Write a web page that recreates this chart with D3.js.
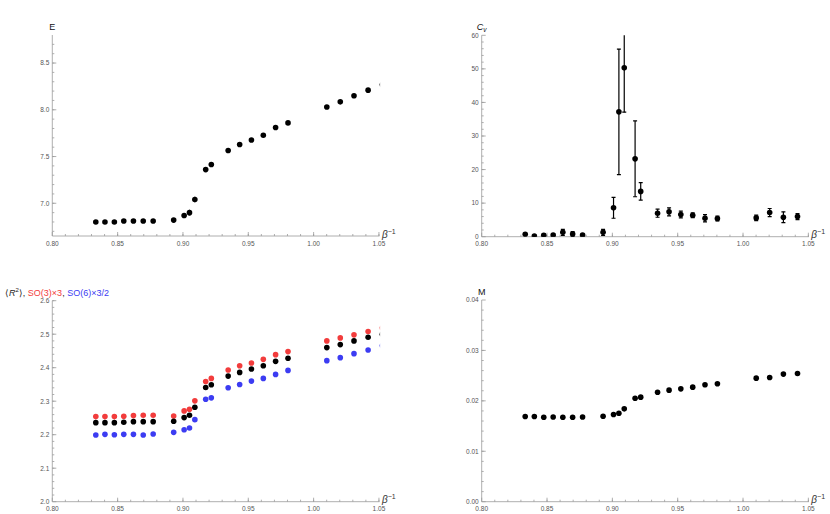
<!DOCTYPE html>
<html>
  <head>
    <title>Observables vs inverse coupling</title>
    <meta charset="utf-8">
    <script src="https://d3js.org/d3.v7.min.js"></script>
    <style>
    body { margin: 0; background: #fff; }
    text { font-family: "Liberation Sans", Arial, sans-serif; }
    </style>
  </head>
  <body>
    <div class="plots"></div>

    <script>

	// inverse coupling beta^-1, shared by all four panels
	var invBeta = [0.8333, 0.8403, 0.8475, 0.8547, 0.8621, 0.8696, 0.8772, 0.8929, 0.9009, 0.9050, 0.9091, 0.9174,
	               0.9217, 0.9346, 0.9434, 0.9524, 0.9615, 0.9709, 0.9804, 1.0101, 1.0204, 1.0309, 1.0417, 1.0526];

	var energy = [6.80, 6.80, 6.80, 6.81, 6.81, 6.81, 6.81, 6.82, 6.87, 6.90, 7.04, 7.36,
	              7.415, 7.564, 7.628, 7.677, 7.727, 7.81, 7.86, 8.03, 8.085, 8.15, 8.21, 8.27];
	var energyErr = [0.005, 0.005, 0.005, 0.005, 0.005, 0.005, 0.005, 0.008, 0.02, 0.03, 0.03, 0.02,
	                 0.01, 0.005, 0.005, 0.005, 0.005, 0.005, 0.005, 0.005, 0.005, 0.005, 0.005, 0.005];

	var cv = [0.7, 0.2, 0.4, 0.5, 1.3, 0.8, 0.5, 1.3, 8.6, 37.2, 50.3, 23.2,
	          13.5, 7.0, 7.4, 6.6, 6.4, 5.5, 5.4, 5.6, 7.2, 5.8, 6.0];
	var cvErr = [0.3, 0.2, 0.4, 0.3, 0.9, 0.7, 0.3, 0.9, 3.1, 18.7, 13.2, 11.3,
	             2.6, 1.2, 1.2, 1.0, 0.7, 1.1, 0.7, 0.8, 1.2, 1.6, 0.9];

	var r2 = [2.236, 2.236, 2.236, 2.237, 2.239, 2.239, 2.239, 2.240, 2.251, 2.258, 2.282, 2.341,
	          2.349, 2.375, 2.386, 2.396, 2.406, 2.419, 2.428, 2.460, 2.469, 2.480, 2.491, 2.500];
	var so3 = [2.254, 2.254, 2.254, 2.255, 2.257, 2.258, 2.258, 2.256, 2.271, 2.276, 2.301, 2.359,
	           2.368, 2.393, 2.406, 2.414, 2.425, 2.439, 2.448, 2.480, 2.489, 2.498, 2.508, 2.519];
	var so6 = [2.199, 2.201, 2.200, 2.201, 2.201, 2.199, 2.202, 2.207, 2.215, 2.220, 2.245, 2.306,
	           2.310, 2.340, 2.350, 2.360, 2.368, 2.380, 2.392, 2.421, 2.430, 2.442, 2.453, 2.466];

	var mag = [0.01689, 0.01690, 0.01675, 0.01680, 0.01675, 0.01675, 0.01680, 0.01695, 0.01728, 0.01755, 0.01841, 0.02053,
	           0.02073, 0.02172, 0.02212, 0.02238, 0.02272, 0.02318, 0.02338, 0.02450, 0.02464, 0.02530, 0.02543];

	var xTicks = [0.80, 0.85, 0.90, 0.95, 1.00, 1.05];

	var width = 830, height = 514;
	var svg = d3.select(".plots").append("svg").attr("width", width).attr("height", height);

	var axisColor = "#9a9a9a", labelColor = "#555";

	function panel(opt) {
		var g = svg.append("g");

		var xEnd = 1.0504;
		var x = d3.scaleLinear().domain([0.80, xEnd]).range([opt.left, opt.left + (xEnd - 0.80) / 0.05 * 65.33]);
		var y = d3.scaleLinear().domain(opt.yDomain).range([opt.bottom, opt.top]);

		var clipId = "clip" + opt.name;
		g.append("clipPath").attr("id", clipId)
			.append("rect")
			.attr("x", x.range()[0]).attr("y", opt.top)
			.attr("width", x.range()[1] - x.range()[0] + 0.6).attr("height", opt.bottom - opt.top);

		// x axis, ticks pointing into the plot
		var xAxis = g.append("g").attr("transform", "translate(0," + opt.bottom + ")");
		xAxis.append("line").attr("x1", x.range()[0]).attr("x2", x.range()[1]).attr("stroke", axisColor).attr("stroke-width", 0.8);
		xAxis.selectAll(".minor").data(d3.range(0.81, 1.051, 0.01)).enter().append("line")
			.attr("x1", function(d){ return x(d); }).attr("x2", function(d){ return x(d); })
			.attr("y1", 0).attr("y2", -2).attr("stroke", axisColor).attr("stroke-width", 0.8);
		xAxis.selectAll(".major").data(xTicks).enter().append("line")
			.attr("x1", function(d){ return x(d); }).attr("x2", function(d){ return x(d); })
			.attr("y1", 0).attr("y2", -4).attr("stroke", axisColor).attr("stroke-width", 0.8);
		xAxis.selectAll("text").data(xTicks).enter().append("text")
			.attr("x", function(d){ return x(d); }).attr("y", 9.5)
			.attr("text-anchor", "middle").attr("font-size", "6.5px").attr("fill", labelColor)
			.text(function(d){ return d3.format(".2f")(d); });
		var bl = xAxis.append("text").attr("x", x(1.05) + 3).attr("y", 1.5).attr("font-size", "10px").attr("fill", "#333");
		bl.append("tspan").attr("font-style", "italic").text("β");
		bl.append("tspan").attr("dy", -4).attr("font-size", "7px").text("−1");

		// y axis
		var yAxis = g.append("g").attr("transform", "translate(" + opt.left + ",0)");
		yAxis.append("line").attr("y1", opt.bottom).attr("y2", opt.top).attr("stroke", axisColor).attr("stroke-width", 0.8);
		yAxis.selectAll(".minor").data(opt.yMinor).enter().append("line")
			.attr("y1", function(d){ return y(d); }).attr("y2", function(d){ return y(d); })
			.attr("x1", 0).attr("x2", 2).attr("stroke", axisColor).attr("stroke-width", 0.8);
		yAxis.selectAll(".major").data(opt.yTicks).enter().append("line")
			.attr("y1", function(d){ return y(d); }).attr("y2", function(d){ return y(d); })
			.attr("x1", 0).attr("x2", 4).attr("stroke", axisColor).attr("stroke-width", 0.8);
		yAxis.selectAll("text").data(opt.yTicks).enter().append("text")
			.attr("x", -3).attr("y", function(d){ return y(d) + 2.3; })
			.attr("text-anchor", "end").attr("font-size", "6.5px").attr("fill", labelColor)
			.text(function(d){ return opt.yFormat(d); });

		var plot = g.append("g").attr("clip-path", "url(#" + clipId + ")");

		opt.series.forEach(function(s) {
			var pts = s.values.map(function(v, i){ return {x: invBeta[i], v: v, e: s.err ? s.err[i] : 0}; });

			if (s.err) {
				var eb = plot.selectAll(null).data(pts).enter().append("g").attr("stroke", s.color).attr("stroke-width", 1.2);
				eb.append("line")
					.attr("x1", function(d){ return x(d.x); }).attr("x2", function(d){ return x(d.x); })
					.attr("y1", function(d){ return y(d.v - d.e); }).attr("y2", function(d){ return y(d.v + d.e); });
				if (s.caps) {
					[-1, 1].forEach(function(sg) {
						eb.append("line")
							.attr("x1", function(d){ return x(d.x) - 2; }).attr("x2", function(d){ return x(d.x) + 2; })
							.attr("y1", function(d){ return y(d.v + sg * d.e); }).attr("y2", function(d){ return y(d.v + sg * d.e); });
					});
				}
			}

			plot.selectAll(null).data(pts).enter().append("circle")
				.attr("cx", function(d){ return x(d.x); })
				.attr("cy", function(d){ return y(d.v); })
				.attr("r", 2.8)
				.attr("fill", s.color);
		});

		if (opt.label) {
			var lab = g.append("text").attr("x", opt.left).attr("y", opt.top - 5.5)
				.attr("text-anchor", "middle").attr("font-size", "9px").attr("fill", "#111");
			opt.label(lab);
		}
		return g;
	}

	panel({
		name: "E", left: 52.3, top: 35, bottom: 236,
		yDomain: [6.65, 8.8],
		yTicks: [7.0, 7.5, 8.0, 8.5],
		yMinor: d3.range(6.7, 8.75, 0.1),
		yFormat: d3.format(".1f"),
		label: function(t){ t.text("E"); },
		series: [{values: energy, err: energyErr, color: "#000", caps: false}]
	});

	panel({
		name: "Cv", left: 481.7, top: 35.3, bottom: 236.7,
		yDomain: [0, 60],
		yTicks: [0, 10, 20, 30, 40, 50, 60],
		yMinor: d3.range(2, 60, 2),
		yFormat: d3.format("d"),
		label: function(t){
			t.append("tspan").attr("font-style", "italic").text("C");
			t.append("tspan").attr("font-style", "italic").attr("font-size", "6.5px").attr("dy", 2).text("v");
		},
		series: [{values: cv, err: cvErr, color: "#000", caps: true}]
	});

	panel({
		name: "R2", left: 52.3, top: 300.7, bottom: 501.7,
		yDomain: [2.0, 2.6],
		yTicks: [2.0, 2.1, 2.2, 2.3, 2.4, 2.5, 2.6],
		yMinor: d3.range(2.02, 2.6, 0.02),
		yFormat: d3.format(".1f"),
		series: [
			{values: so3, color: "#f23c3c"},
			{values: r2, color: "#000"},
			{values: so6, color: "#3c3cf2"}
		]
	});

	panel({
		name: "M", left: 481.7, top: 300, bottom: 501.7,
		yDomain: [0, 0.04],
		yTicks: [0, 0.01, 0.02, 0.03, 0.04],
		yMinor: d3.range(0.002, 0.04, 0.002),
		yFormat: d3.format(".2f"),
		label: function(t){ t.text("M"); },
		series: [{values: mag, color: "#000"}]
	});

	// legend-style title for the R^2 panel
	var t = svg.append("text").attr("x", 5).attr("y", 295.5).attr("font-size", "9px");
	t.append("tspan").attr("fill", "#222").text("⟨");
	t.append("tspan").attr("fill", "#222").attr("font-style", "italic").text("R");
	t.append("tspan").attr("fill", "#222").attr("dy", -3.5).attr("font-size", "6px").text("2");
	t.append("tspan").attr("fill", "#222").attr("dy", 3.5).text("⟩, ");
	t.append("tspan").attr("fill", "#f23c3c").text("SO(3)×3");
	t.append("tspan").attr("fill", "#222").text(", ");
	t.append("tspan").attr("fill", "#3c3cf2").text("SO(6)×3/2");

    </script>

  </body>
</html>
